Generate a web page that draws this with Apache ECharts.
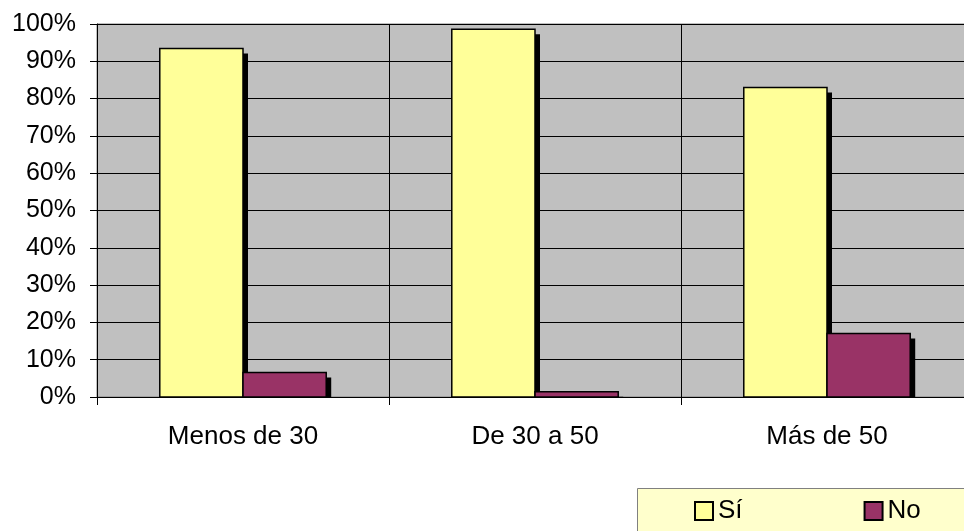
<!DOCTYPE html>
<html>
<head>
<meta charset="utf-8">
<script src="https://cdn.jsdelivr.net/npm/echarts@6/dist/echarts.min.js"></script>
<style>
html,body{margin:0;padding:0;background:#fff;}
#chart{width:964px;height:531px;}
</style>
</head>
<body>
<div id="chart"></div>
<script>
const categories = ['Menos de 30', 'De 30 a 50', 'Más de 50'];
const seriesNames = ['Sí', 'No'];
const siValues = [93.4, 98.6, 83.0];
const noValues = [6.6, 1.4, 17.0];
const yTicks = [0, 10, 20, 30, 40, 50, 60, 70, 80, 90, 100];
const colors = ['#FFFF99', '#993366'];

const chart = echarts.init(document.getElementById('chart'), null, {renderer: 'canvas'});
const font = 'Arial, "Liberation Sans", sans-serif';

function makeRender(seriesIdx) {
  return function (params, api) {
    const cat = api.value(0);
    const val = api.value(1);
    const base = api.coord([cat, 0]);
    const top = api.coord([cat, val]);
    const band = api.size([1, 0])[0];
    const w = band * 0.285;
    const x = base[0] - w + seriesIdx * w;
    const h = base[1] - top[1];
    const sOff = 5;
    const shadowH = Math.max(0, h - sOff);
    return {
      type: 'group',
      children: [
        {type: 'rect', shape: {x: x + sOff, y: top[1] + sOff, width: w, height: shadowH},
         style: {fill: '#000'}},
        {type: 'rect', shape: {x: x, y: top[1], width: w, height: h},
         style: {fill: colors[seriesIdx], stroke: '#000', lineWidth: 1.5}}
      ]
    };
  };
}

chart.setOption({
  animation: false,
  grid: {
    left: 97, top: 24, width: 876, bottom: 134,
    outerBoundsMode: 'none', containLabel: false,
    show: true, backgroundColor: '#C0C0C0', borderColor: '#808080', borderWidth: 1
  },
  graphic: [{
    type: 'rect', left: 637, top: 488, z: 0,
    shape: {width: 400, height: 60},
    style: {fill: '#FFFFCC', stroke: '#808080', lineWidth: 1}
  }],
  legend: {
    left: 694, top: 498,
    padding: 0,
    itemWidth: 18, itemHeight: 18,
    itemGap: 121,
    icon: 'rect',
    itemStyle: {borderColor: '#000', borderWidth: 2},
    textStyle: {fontFamily: font, fontSize: 26, color: '#000'},
    data: seriesNames
  },
  xAxis: {
    type: 'category',
    data: categories,
    axisLine: {lineStyle: {color: '#000', width: 1}},
    axisTick: {show: true, length: 8, lineStyle: {color: '#000'}},
    splitLine: {show: true, lineStyle: {color: '#000', width: 1}},
    axisLabel: {fontFamily: font, fontSize: 26, color: '#000', margin: 27}
  },
  yAxis: {
    type: 'value',
    min: yTicks[0], max: yTicks[yTicks.length - 1], interval: 10,
    axisLine: {show: true, lineStyle: {color: '#000', width: 1}},
    axisTick: {show: true, length: 7, lineStyle: {color: '#000'}},
    splitLine: {show: true, lineStyle: {color: '#000', width: 1}},
    axisLabel: {fontFamily: font, fontSize: 25, color: '#000', margin: 21, formatter: '{value}%'}
  },
  series: [
    {name: seriesNames[0], type: 'custom', renderItem: makeRender(0), encode: {x: 0, y: 1},
     itemStyle: {color: colors[0]}, data: siValues.map((v, i) => [i, v])},
    {name: seriesNames[1], type: 'custom', renderItem: makeRender(1), encode: {x: 0, y: 1},
     itemStyle: {color: colors[1]}, data: noValues.map((v, i) => [i, v])}
  ]
});
</script>
</body>
</html>
